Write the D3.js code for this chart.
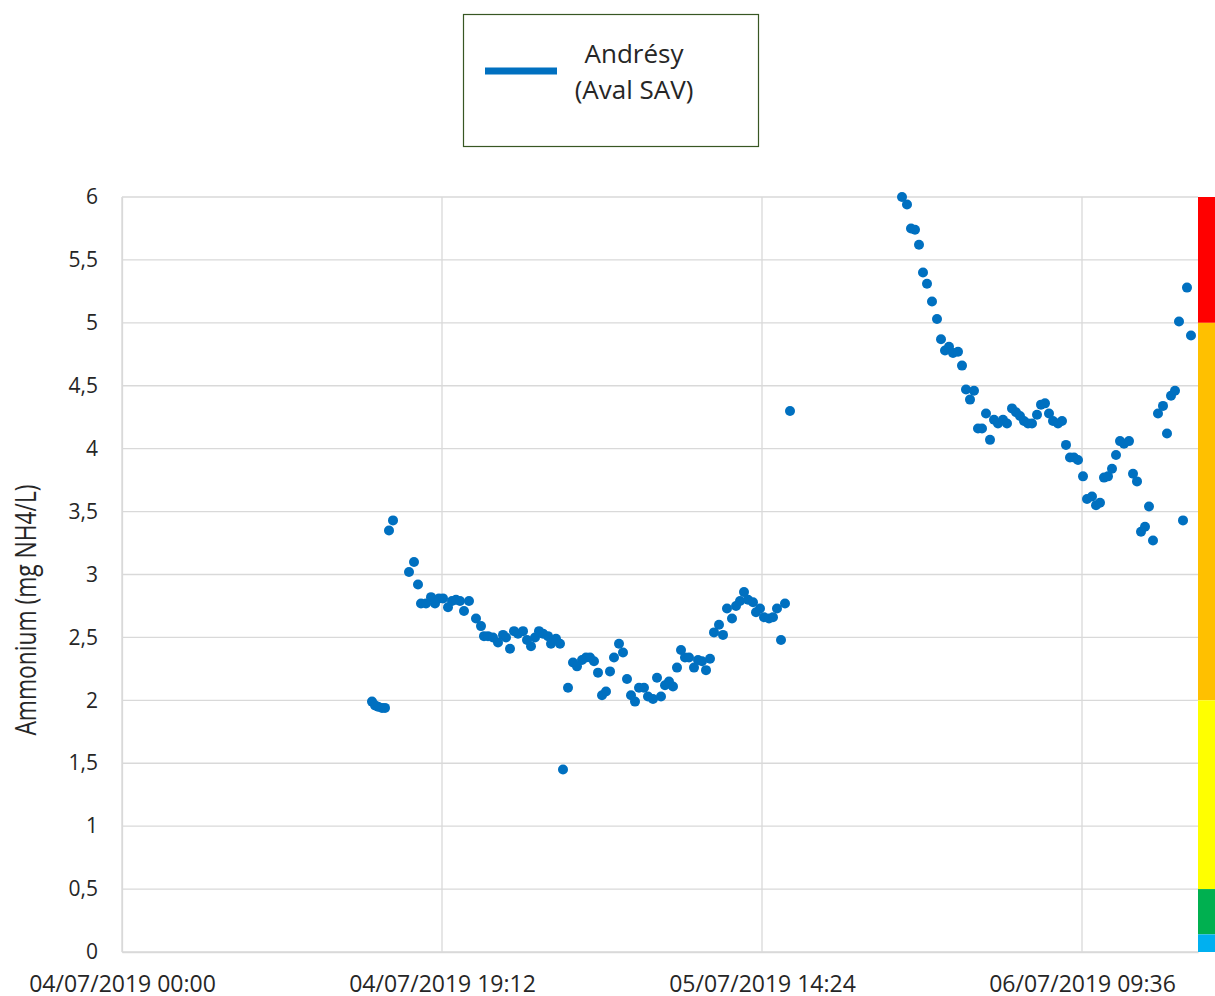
<!DOCTYPE html>
<html>
<head>
<meta charset="utf-8">
<script src="https://cdn.jsdelivr.net/npm/d3@7"></script>
<style>
  body { margin: 0; background: #fff; }
  text { font-family: "Open Sans", "DejaVu Sans", sans-serif; fill: #262626; }
</style>
</head>
<body>
<div id="chart"></div>
<script>
// hours since 04/07/2019 00:00
let hours = [
	15.00, 15.18, 15.36, 15.60, 15.78, 16.02, 16.26, 17.22, 17.52, 17.76,
	17.94, 18.24, 18.54, 18.78, 19.02, 19.26, 19.56, 19.80, 20.04, 20.28,
	20.52, 20.82, 21.24, 21.54, 21.72, 21.96, 22.26, 22.56, 22.86, 23.04,
	23.28, 23.52, 23.76, 24.06, 24.30, 24.54, 24.78, 25.02, 25.26, 25.56,
	25.74, 26.04, 26.28, 26.46, 26.76, 27.06, 27.30, 27.60, 27.84, 28.08,
	28.32, 28.56, 28.80, 29.04, 29.28, 29.52, 29.82, 30.06, 30.30, 30.54,
	30.78, 31.02, 31.32, 31.56, 31.86, 32.10, 32.34, 32.58, 32.82, 33.06,
	33.30, 33.54, 33.78, 34.02, 34.32, 34.56, 34.80, 35.04, 35.28, 35.52,
	35.82, 36.06, 36.30, 36.60, 36.84, 37.08, 37.32, 37.56, 37.86, 38.04,
	38.28, 38.52, 38.82, 39.06, 39.30, 39.54, 39.78, 40.08,
	46.80, 47.10, 47.34, 47.58, 47.82, 48.06, 48.30, 48.60, 48.90, 49.14,
	49.38, 49.62, 49.86, 50.16, 50.40, 50.64, 50.88, 51.12, 51.36, 51.60,
	51.84, 52.08, 52.32, 52.56, 52.86, 53.10, 53.40, 53.64, 53.88, 54.12,
	54.36, 54.60, 54.90, 55.14, 55.38, 55.62, 55.86, 56.16, 56.40, 56.64,
	56.88, 57.12, 57.36, 57.66, 57.90, 58.20, 58.44, 58.68, 58.92, 59.16,
	59.40, 59.64, 59.88, 60.12, 60.42, 60.66, 60.90, 61.14, 61.38, 61.62,
	61.86, 62.16, 62.46, 62.70, 62.94, 63.18, 63.42, 63.66, 63.90, 64.14
];

// ammonium (mg NH4/L)
let ammonium = [
	1.99, 1.96, 1.95, 1.94, 1.94, 3.35, 3.43, 3.02, 3.10, 2.92,
	2.77, 2.77, 2.82, 2.77, 2.81, 2.81, 2.74, 2.79, 2.80, 2.79,
	2.71, 2.79, 2.65, 2.59, 2.51, 2.51, 2.50, 2.46, 2.52, 2.50,
	2.41, 2.55, 2.53, 2.55, 2.48, 2.43, 2.50, 2.55, 2.53, 2.51,
	2.45, 2.49, 2.45, 1.45, 2.10, 2.30, 2.27, 2.32, 2.34, 2.34,
	2.31, 2.22, 2.04, 2.07, 2.23, 2.34, 2.45, 2.38, 2.17, 2.04,
	1.99, 2.10, 2.10, 2.03, 2.01, 2.18, 2.03, 2.12, 2.15, 2.11,
	2.26, 2.40, 2.34, 2.34, 2.26, 2.32, 2.31, 2.24, 2.33, 2.54,
	2.60, 2.52, 2.73, 2.65, 2.75, 2.79, 2.86, 2.80, 2.78, 2.70,
	2.73, 2.66, 2.65, 2.66, 2.73, 2.48, 2.77, 4.30,
	6.00, 5.94, 5.75, 5.74, 5.62, 5.40, 5.31, 5.17, 5.03, 4.87,
	4.78, 4.81, 4.76, 4.77, 4.66, 4.47, 4.39, 4.46, 4.16, 4.16,
	4.28, 4.07, 4.23, 4.20, 4.23, 4.20, 4.32, 4.29, 4.26, 4.22,
	4.20, 4.20, 4.27, 4.35, 4.36, 4.28, 4.22, 4.20, 4.22, 4.03,
	3.93, 3.93, 3.91, 3.78, 3.60, 3.62, 3.55, 3.57, 3.77, 3.78,
	3.84, 3.95, 4.06, 4.04, 4.06, 3.80, 3.74, 3.34, 3.38, 3.54,
	3.27, 4.28, 4.34, 4.12, 4.42, 4.46, 5.01, 3.43, 5.28, 4.90
];

let tickHours = [0, 19.2, 38.4, 57.6];
let yTicks = [0, 0.5, 1, 1.5, 2, 2.5, 3, 3.5, 4, 4.5, 5, 5.5, 6];

// quality classes on the right-hand bar
let classBounds = [[5, 6], [2, 5], [0.5, 2], [0.14, 0.5], [0, 0.14]];
let classColors = ["#FF0000", "#FFC000", "#FFFF00", "#00B050", "#00B0F0"];

let seriesName = ["Andrésy", "(Aval SAV)"];

let start = new Date(2019, 6, 4, 0, 0);
let toDate = (h) => new Date(start.getTime() + h * 3600 * 1000);

let W = 1215, H = 996;
let margin = { top: 197, right: 17, bottom: 44, left: 122 };
let width = W - margin.left - margin.right;
let height = H - margin.top - margin.bottom;

let svg = d3.select("#chart").append("svg")
	.attr("width", W).attr("height", H);

let g = svg.append("g")
	.attr("transform", "translate(" + margin.left + "," + margin.top + ")");

let x = d3.scaleTime().domain([toDate(0), toDate(64.56)]).range([0, width]);
let y = d3.scaleLinear().domain([0, 6]).range([height, 0]);

// gridlines
g.append("g").selectAll("line").data(yTicks).enter().append("line")
	.attr("x1", 0).attr("x2", width)
	.attr("y1", (d) => y(d)).attr("y2", (d) => y(d))
	.attr("stroke", "#d9d9d9").attr("stroke-width", 1.3);

g.append("g").selectAll("line").data(tickHours).enter().append("line")
	.attr("x1", (d) => x(toDate(d))).attr("x2", (d) => x(toDate(d)))
	.attr("y1", 0).attr("y2", height)
	.attr("stroke", "#d9d9d9").attr("stroke-width", 1.3);

// axes
let fmt = d3.timeFormat("%d/%m/%Y %H:%M");
let xAxis = g.append("g")
	.attr("transform", "translate(0," + height + ")")
	.call(d3.axisBottom(x).tickValues(tickHours.map(toDate)).tickFormat(fmt).tickSize(0).tickPadding(24));
xAxis.select(".domain").attr("stroke", "#d9d9d9").attr("stroke-width", 1.3);
xAxis.selectAll("text").attr("font-size", 23).attr("fill", "#1a1a1a")
	.attr("font-family", "'Open Sans', sans-serif");

let yAxis = g.append("g")
	.call(d3.axisLeft(y).tickValues(yTicks).tickFormat((d) => String(d).replace(".", ",")).tickSize(0).tickPadding(24));
yAxis.select(".domain").attr("stroke", "#d9d9d9").attr("stroke-width", 1.3);
yAxis.selectAll("text").attr("font-size", 21).attr("fill", "#1a1a1a")
	.attr("font-family", "'Open Sans', sans-serif");

// axis title, drawn condensed like the original
svg.append("text")
	.attr("transform", "translate(36,610) rotate(-90) scale(1,1.27)")
	.attr("text-anchor", "middle")
	.attr("font-size", 22.8)
	.attr("font-family", "'Liberation Sans', Arial, sans-serif")
	.attr("fill", "#1a1a1a")
	.text("Ammonium (mg NH4/L)");

// quality bar
g.append("g").selectAll("rect").data(classBounds).enter().append("rect")
	.attr("x", width).attr("width", margin.right)
	.attr("y", (d) => y(d[1])).attr("height", (d) => y(d[0]) - y(d[1]))
	.attr("fill", (d, i) => classColors[i]);

// points
g.append("g").selectAll("circle").data(hours).enter().append("circle")
	.attr("cx", (d) => x(toDate(d)))
	.attr("cy", (d, i) => y(ammonium[i]))
	.attr("r", 5)
	.attr("fill", "#0070C0");

// legend
let lg = svg.append("g");
lg.append("rect")
	.attr("x", 463.5).attr("y", 14.5).attr("width", 295).attr("height", 132)
	.attr("fill", "#fff").attr("stroke", "#385723").attr("stroke-width", 1.2);
lg.append("line")
	.attr("x1", 485).attr("x2", 557).attr("y1", 71).attr("y2", 71)
	.attr("stroke", "#0070C0").attr("stroke-width", 7);
lg.selectAll("text.lbl").data(seriesName).enter().append("text")
	.attr("class", "lbl")
	.attr("x", 634).attr("y", (d, i) => 63 + i * 36)
	.attr("text-anchor", "middle")
	.attr("font-size", 26)
	.attr("font-family", "'Open Sans', sans-serif")
	.attr("fill", "#1a1a1a")
	.text((d) => d);
</script>
</body>
</html>
